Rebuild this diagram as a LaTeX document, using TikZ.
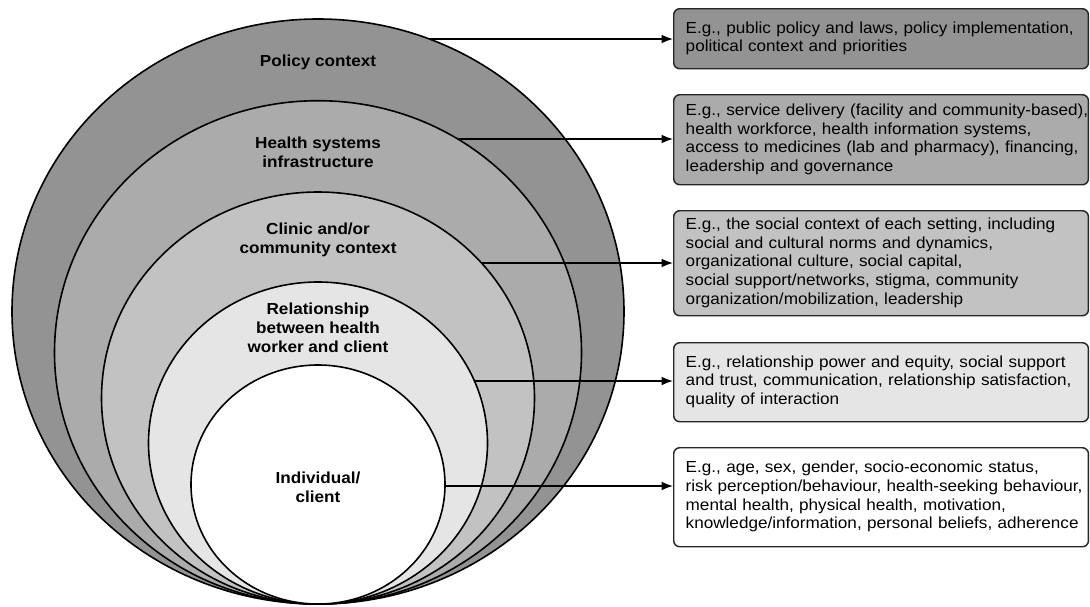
\documentclass[tikz,border=0pt]{standalone}
\usepackage{fontspec}
\setmainfont{Liberation Sans}[FakeStretch=1.07]
\usetikzlibrary{arrows.meta}
\definecolor{cone}{HTML}{939393}
\definecolor{ctwo}{HTML}{ABABAB}
\definecolor{cthree}{HTML}{C2C2C2}
\definecolor{cfour}{HTML}{E5E5E5}
\newcommand{\boxlines}[1]{\begin{tabular}{@{}l@{}}#1\end{tabular}}
\begin{document}
\begin{tikzpicture}[x=0.75pt,y=-0.75pt,
  ring/.style={draw=black,line width=1.2pt},
  lab/.style={font=\bfseries\fontsize{12}{14.25}\selectfont,align=center,inner sep=0pt},
  infobox/.style={draw=black!85,line width=1.1pt,rounded corners=4.5pt,anchor=north west,
    text width=293pt,inner xsep=9pt,inner ysep=0pt,align=left,
    font=\fontsize{12}{14}\selectfont},
  arr/.style={line width=1.1pt,-{Latex[length=8.5pt,width=6.5pt]}}]
\useasboundingbox (0,0) rectangle (1090,607);
% nested ellipses
\filldraw[ring,fill=cone]   (318,311.5) ellipse [x radius=306,  y radius=292.5];
\filldraw[ring,fill=ctwo]   (318,352.4) ellipse [x radius=263.5,y radius=251.7];
\filldraw[ring,fill=cthree] (318,398)   ellipse [x radius=216.5,y radius=206];
\filldraw[ring,fill=cfour]  (318,443)   ellipse [x radius=169.5,y radius=161];
\filldraw[ring,fill=white]  (318,484.5) ellipse [x radius=127,  y radius=119.5];
% labels
\node[lab] (l1) at (318,62)    {Policy context};
\node[lab] (l2) at (318,152.5) {Health systems\\infrastructure};
\node[lab] (l3) at (318,239.5) {Clinic and/or\\community context};
\node[lab] (l4) at (318,328)   {Relationship\\between health\\worker and client};
\node[lab] (l5) at (318,487.5) {Individual/\\client};
% boxes
\node[infobox,fill=cone,minimum height=45pt] (b1) at (673,8)
  {\boxlines{E.g., public policy and laws, policy implementation,\\political context and priorities}};
\node[infobox,fill=ctwo,minimum height=67.5pt] (b2) at (673,94)
  {\boxlines{E.g., service delivery (facility and community-based),\\health workforce, health information systems,\\access to medicines (lab and pharmacy), financing,\\leadership and governance}};
\node[infobox,fill=cthree,minimum height=78.75pt] (b3) at (673,210)
  {\boxlines{E.g., the social context of each setting, including\\social and cultural norms and dynamics,\\organizational culture, social capital,\\social support/networks, stigma, community\\organization/mobilization, leadership}};
\node[infobox,fill=cfour,minimum height=59.25pt] (b4) at (673,342)
  {\boxlines{E.g., relationship power and equity, social support\\and trust, communication, relationship satisfaction,\\quality of interaction}};
\node[infobox,fill=white,minimum height=74.25pt] (b5) at (673,447)
  {\boxlines{E.g., age, sex, gender, socio-economic status,\\risk perception/behaviour, health-seeking behaviour,\\mental health, physical health, motivation,\\knowledge/information, personal beliefs, adherence}};
% arrow starts on ring borders
\coordinate (s1) at (429,39);
\coordinate (s2) at (458,139);
\coordinate (s3) at (482,263);
\coordinate (s4) at (475,381);
\coordinate (s5) at (445,486);
\draw[arr] (s1) -- (s1 -| b1.west);
\draw[arr] (s2) -- (s2 -| b2.west);
\draw[arr] (s3) -- (s3 -| b3.west);
\draw[arr] (s4) -- (s4 -| b4.west);
\draw[arr] (s5) -- (s5 -| b5.west);
\end{tikzpicture}
\end{document}
